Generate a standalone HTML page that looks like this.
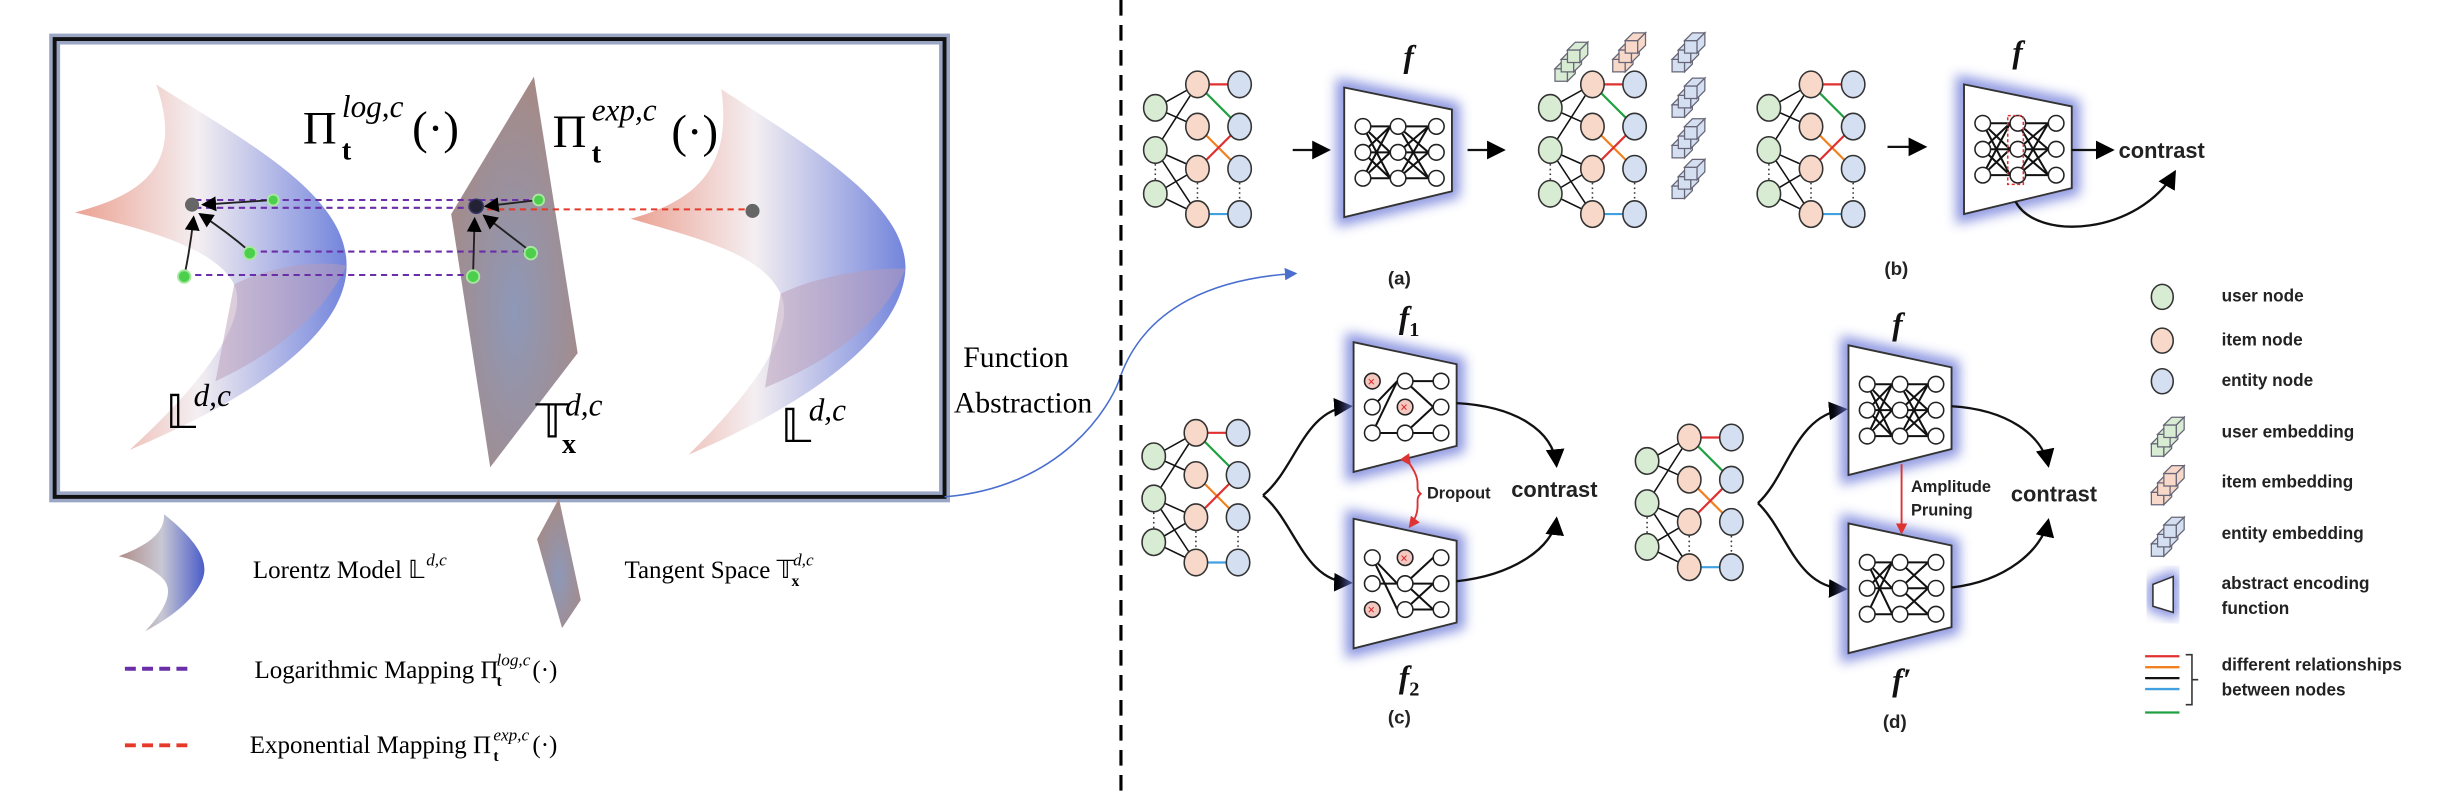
<!DOCTYPE html>
<html><head><meta charset="utf-8">
<style>
html,body{margin:0;padding:0;background:#fff;}
svg{display:block;}
</style></head>
<body>
<svg id="fig" width="2448" height="800" viewBox="0 0 1568 512" preserveAspectRatio="none" xmlns="http://www.w3.org/2000/svg">
<defs>
 <linearGradient id="sheet" x1="0" y1="0" x2="1" y2="0">
  <stop offset="0" stop-color="#e8907e"/><stop offset="0.45" stop-color="#f2ecef"/><stop offset="1" stop-color="#5a6fd6"/>
 </linearGradient>
 <linearGradient id="sheetL" x1="0" y1="0" x2="1" y2="0">
  <stop offset="0" stop-color="#b08c88"/><stop offset="0.5" stop-color="#c8c8d4"/><stop offset="1" stop-color="#4a5cc8"/>
 </linearGradient>
 <radialGradient id="plane" cx="0.5" cy="0.6" r="0.6">
  <stop offset="0" stop-color="#8e98b8"/><stop offset="1" stop-color="#a58a86"/>
 </radialGradient>
 <filter id="glow" x="-30%" y="-30%" width="160%" height="160%"><feGaussianBlur stdDeviation="4"/></filter>
 <marker id="ah" markerWidth="8" markerHeight="8" refX="7" refY="4" orient="auto"><path d="M0,0 L8,4 L0,8 z" fill="#000"/></marker>
 <marker id="ahb" markerWidth="8" markerHeight="8" refX="7" refY="4" orient="auto"><path d="M0,0 L8,4 L0,8 z" fill="#4a6fcf"/></marker>
 <marker id="ahr" markerWidth="6" markerHeight="6" refX="5" refY="3" orient="auto"><path d="M0,0 L6,3 L0,6 z" fill="#d33"/></marker>
</defs>

<g font-family="'Liberation Serif',serif">
 <rect x="35" y="25" width="570" height="293" fill="#fff" stroke="#9aa6c4" stroke-width="7"/>
 <rect x="35" y="25" width="570" height="293" fill="none" stroke="#111" stroke-width="2.5"/>
 <path d="M100,54 C160,92 222,125 222,170 C222,218 150,260 83,288 C130,245 160,205 150,182 C138,158 90,146 48,136 C85,126 120,110 100,54 Z" fill="url(#sheet)" opacity="0.85"/>
 <path d="M150,182 C170,172 200,166 222,170 C205,205 172,228 138,244 Z" fill="#b99cb8" opacity="0.5"/>
 <path d="M342,49 L370,226 L314,299 L289,137 Z" fill="url(#plane)"/>
 <path d="M462,57 C520,95 580,130 580,172 C578,218 510,262 441,291 C485,248 510,210 500,188 C488,162 445,152 404,140 C440,130 470,112 462,57 Z" fill="url(#sheet)" opacity="0.85"/>
 <path d="M500,188 C520,178 555,171 580,172 C565,208 530,232 490,248 Z" fill="#b99cb8" opacity="0.5"/>
 <g stroke-dasharray="4,3" stroke-width="1.3" fill="none">
  <line x1="125" y1="128" x2="346" y2="128" stroke="#6a2fa8"/>
  <line x1="125" y1="133" x2="305" y2="133" stroke="#6a2fa8"/>
  <line x1="160" y1="161" x2="340" y2="161" stroke="#6a2fa8"/>
  <line x1="118" y1="176" x2="303" y2="176" stroke="#6a2fa8"/>
  <line x1="305" y1="134" x2="482" y2="134" stroke="#e53a2a"/>
 </g>
 <g stroke="#222" stroke-width="1.2" fill="none">
  <line x1="175" y1="128" x2="130" y2="131" marker-end="url(#ah)"/>
  <path d="M160,161 Q145,148 128,137" marker-end="url(#ah)"/>
  <path d="M118,177 Q122,158 124,139" marker-end="url(#ah)"/>
  <line x1="345" y1="128" x2="311" y2="132" marker-end="url(#ah)"/>
  <line x1="340" y1="161" x2="310" y2="138" marker-end="url(#ah)"/>
  <line x1="303" y1="176" x2="304" y2="140" marker-end="url(#ah)"/>
 </g>
 <circle cx="123" cy="131" r="4.5" fill="#666"/>
 <circle cx="305" cy="132" r="4.5" fill="#223" stroke="#336" stroke-width="1"/>
 <circle cx="482" cy="135" r="4.5" fill="#666"/>
 <g fill="#4ccf4c" stroke="#a8e8a0" stroke-width="1.2">
  <circle cx="175" cy="128" r="3.5"/><circle cx="160" cy="162" r="4"/><circle cx="118" cy="177" r="4"/>
  <circle cx="345" cy="128" r="3.5"/><circle cx="340" cy="162" r="4"/><circle cx="303" cy="177" r="4"/>
 </g>
 <g>
  <text x="194" y="92" font-size="30">Π</text>
  <text x="219" y="75" font-size="20" font-style="italic">log,c</text>
  <text x="219" y="102" font-size="18" font-weight="bold">t</text>
  <text x="264" y="92" font-size="30">(·)</text>
 </g>
 <g>
  <text x="354" y="94" font-size="30">Π</text>
  <text x="379" y="77" font-size="20" font-style="italic">exp,c</text>
  <text x="379" y="104" font-size="18" font-weight="bold">t</text>
  <text x="430" y="94" font-size="30">(·)</text>
 </g>
 <g><text x="106" y="274" font-size="30">𝕃</text><text x="124" y="260" font-size="20" font-style="italic">d,c</text></g>
 <g><text x="343" y="280" font-size="30">𝕋</text><text x="362" y="266" font-size="20" font-style="italic">d,c</text><text x="360" y="290" font-size="18" font-weight="bold">x</text></g>
 <g><text x="500" y="283" font-size="30">𝕃</text><text x="518" y="269" font-size="20" font-style="italic">d,c</text></g>
</g>

<g font-family="'Liberation Serif',serif">
 <path d="M105,329 C125,345 134,358 130,370 C125,384 108,396 93,404 C106,390 112,378 104,370 C98,364 86,358 76,356 C92,350 106,342 105,329 Z" fill="url(#sheetL)"/>
 <g><text x="162" y="370" font-size="16">Lorentz Model 𝕃</text><text x="273" y="362" font-size="11" font-style="italic">d,c</text></g>
 <path d="M358,319 L372,384 L360,402 L344,345 Z" fill="url(#plane)"/>
 <g><text x="400" y="370" font-size="16">Tangent Space 𝕋</text><text x="508" y="362" font-size="11" font-style="italic">d,c</text><text x="507" y="375" font-size="10" font-weight="bold">x</text></g>
 <line x1="80" y1="428" x2="124" y2="428" stroke="#6a2fa8" stroke-width="2.5" stroke-dasharray="7,4"/>
 <g><text x="163" y="434" font-size="16">Logarithmic Mapping Π</text><text x="318" y="426" font-size="11" font-style="italic">log,c</text><text x="318" y="439" font-size="10" font-weight="bold">t</text><text x="341" y="434" font-size="16">(·)</text></g>
 <line x1="80" y1="477" x2="124" y2="477" stroke="#e53a2a" stroke-width="2.5" stroke-dasharray="7,4"/>
 <g><text x="160" y="482" font-size="16">Exponential Mapping Π</text><text x="316" y="474" font-size="11" font-style="italic">exp,c</text><text x="316" y="487" font-size="10" font-weight="bold">t</text><text x="341" y="482" font-size="16">(·)</text></g>
</g>

<text font-family="'Liberation Serif',serif" x="617" y="235" font-size="19">Function</text>
<text font-family="'Liberation Serif',serif" x="611" y="264" font-size="19">Abstraction</text>
<path d="M605,318 C680,312 712,260 718,240 C735,195 780,178 830,175" fill="none" stroke="#4a6fcf" stroke-width="1" marker-end="url(#ahb)"/>
<line x1="718" y1="0" x2="718" y2="512" stroke="#000" stroke-width="2" stroke-dasharray="10,6"/>

<g id="right"></g>
</svg>

<script>
const NS='http://www.w3.org/2000/svg';
const R=document.getElementById('right');
function mk(tag,at,parent){const e=document.createElementNS(NS,tag);for(const k in at)e.setAttribute(k,at[k]);(parent||R).appendChild(e);return e;}
function txt(x,y,s,size,name){const t=mk('text',{x:x,y:y,'font-size':size,'font-family':'"Liberation Sans",sans-serif','font-weight':'bold',fill:'#222'});t.textContent=s;


return t;}
const GREEN='#d8ecd4',PEACH='#f8d8c8',BLUE='#d4e0f2';
function graph(x0,y0,name){
  const g=mk('g',{});
  
  
  const gy=[15,42,70].map(v=>y0+v), iy=[0,27,54,83].map(v=>y0+v);
  const xg=x0,xi=x0+27,xe=x0+54;
  const edges=[[0,0],[0,1],[1,0],[1,2],[2,2],[2,3],[1,3]];
  edges.forEach(([a,b])=>mk('line',{x1:xg,y1:gy[a],x2:xi,y2:iy[b],stroke:'#111','stroke-width':1},g));
  const col=[[0,0,'#e03030'],[0,1,'#20a040'],[1,2,'#f08020'],[2,1,'#e03030'],[3,3,'#40a0e0']];
  col.forEach(([a,b,c])=>mk('line',{x1:xi,y1:iy[a],x2:xe,y2:iy[b],stroke:c,'stroke-width':1.4},g));
  gy.forEach(y=>mk('ellipse',{cx:xg,cy:y,rx:7.5,ry:8.5,fill:GREEN,stroke:'#333','stroke-width':1},g));
  iy.forEach(y=>mk('ellipse',{cx:xi,cy:y,rx:7.5,ry:8.5,fill:PEACH,stroke:'#333','stroke-width':1},g));
  iy.forEach(y=>mk('ellipse',{cx:xe,cy:y,rx:7.5,ry:8.5,fill:BLUE,stroke:'#333','stroke-width':1},g));
  [[xg,y0+56],[xi,y0+68],[xe,y0+68]].forEach(([x,y])=>mk('line',{x1:x,y1:y-5,x2:x,y2:y+5,stroke:'#333','stroke-dasharray':'1,2'},g));
}
function trap(x,y,w,h,name,inner){
  const g=mk('g',{});
  
  
  const pts=`${x},${y} ${x+w},${y+h*0.17} ${x+w},${y+h*0.8} ${x},${y+h}`;
  mk('polygon',{points:pts,fill:'none',stroke:'#6c78d8','stroke-width':10,filter:'url(#glow)',opacity:0.8},g);
  mk('polygon',{points:pts,fill:'#fff',stroke:'#333','stroke-width':1.2},g);
  const cx=[x+12,x+w/2,x+w-10], cy=[y+h*0.3,y+h*0.5,y+h*0.7];
  const nodes=inner||[[1,1,1],[1,1,1],[1,1,1]];
  for(let c=0;c<2;c++)for(let a=0;a<3;a++)for(let b=0;b<3;b++){
    if(nodes[c][a]!==1||nodes[c+1][b]!==1)continue;
    if(inner&&((a+b+c)%3===0)&&a!==b)continue;
    mk('line',{x1:cx[c],y1:cy[a],x2:cx[c+1]-5,y2:cy[b],stroke:'#111','stroke-width':1.3},g);
  }
  for(let c=0;c<3;c++)for(let a=0;a<3;a++){
    mk('circle',{cx:cx[c],cy:cy[a],r:5,fill:nodes[c][a]===2?'#f4c8c0':'#fff',stroke:'#222','stroke-width':1},g);
    if(nodes[c][a]===2){mk('text',{x:cx[c]-3,y:cy[a]+3,'font-size':8,fill:'#d22','font-family':'"Liberation Sans",sans-serif'},g).textContent='×';}
  }
  return g;
}
function cube(x,y,fill,name){
  const g=mk('g',{});
  
  
  for(let i=0;i<3;i++){
    const bx=x+i*4,by=y-i*6;
    mk('polygon',{points:`${bx},${by} ${bx+8},${by} ${bx+8},${by+8} ${bx},${by+8}`,fill:fill,stroke:'#667','stroke-width':0.8},g);
    mk('polygon',{points:`${bx},${by} ${bx+5},${by-5} ${bx+13},${by-5} ${bx+8},${by}`,fill:fill,stroke:'#667','stroke-width':0.8},g);
    mk('polygon',{points:`${bx+8},${by} ${bx+13},${by-5} ${bx+13},${by+3} ${bx+8},${by+8}`,fill:fill,stroke:'#667','stroke-width':0.8},g);
  }
}
function arrow(d,name,col){const p=mk('path',{d:d,fill:'none',stroke:col||'#111','stroke-width':1.5,'marker-end':col?'url(#ahr)':'url(#ah)'});
  
  }
function fLabel(x,y,s,sub,name){const t=mk('text',{x:x,y:y,'font-size':20,'font-family':'"Liberation Serif",serif','font-style':'italic','font-weight':'bold',fill:'#111'});t.textContent=s;
  
  
  if(sub){const ts=document.createElementNS(NS,'tspan');ts.setAttribute('font-size','13');ts.setAttribute('font-style','normal');ts.setAttribute('dy','5');ts.textContent=sub;t.appendChild(ts);}}

// (a)
graph(740,54,'graph-a-input');
arrow('M828,96 L851,96','arrow-a-1');
trap(861,56,69,83,'encoder-a');
fLabel(899,43,'f','','f-label-a');
arrow('M940,96 L963,96','arrow-a-2');
graph(993,54,'graph-a-output');
cube(996,44,GREEN,'user-embedding-a');cube(1033,38,PEACH,'item-embedding-a');cube(1071,38,BLUE,'entity-embedding-a-1');
cube(1071,67,BLUE,'entity-embedding-a-2');cube(1071,93,BLUE,'entity-embedding-a-3');cube(1071,119,BLUE,'entity-embedding-a-4');
txt(889,182,'(a)',12,'label-a');
// (b)
graph(1133,54,'graph-b-input');
arrow('M1209,94 L1233,94','arrow-b-1');
trap(1258,54,69,83,'encoder-b');
mk('rect',{x:1286,y:74,width:10,height:44,fill:'none',stroke:'#d33','stroke-dasharray':'2,1.5'});
fLabel(1289,40,'f','','f-label-b');
arrow('M1327,96 L1353,96','arrow-b-2');
txt(1357,101,'contrast',14,'contrast-b');
arrow('M1291,129 C1305,155 1370,150 1393,110','arrow-b-curve');
txt(1207,176,'(b)',12,'label-b');
// (c)
graph(739,277,'graph-c-input');
arrow('M809,317 C830,300 835,262 865,260','arrow-c-top');
arrow('M809,317 C830,335 835,372 865,373','arrow-c-bottom');
trap(867,219,66,83,'encoder-c-1',[[2,1,1],[1,2,1],[1,1,1]]);
trap(867,332,66,83,'encoder-c-2',[[1,1,2],[2,1,1],[1,1,1]]);
fLabel(896,210,'f','1','f1-label');
fLabel(896,440,'f','2','f2-label');
arrow('M933,258 C970,260 995,275 997,298','arrow-c-contrast-1');
arrow('M933,372 C970,368 995,350 997,332','arrow-c-contrast-2');
mk('path',{d:'M903,297 C912,310 905,312 910,316 C905,320 912,325 903,337',fill:'none',stroke:'#d33','stroke-width':1.2,'marker-end':'url(#ahr)','marker-start':'url(#ahr)'});
txt(914,319,'Dropout',10.5,'dropout-label');
txt(968,318,'contrast',14,'contrast-c');
txt(889,463,'(c)',12,'label-c');
// (d)
graph(1055,280,'graph-d-input');
arrow('M1126,322 C1145,305 1150,265 1182,262','arrow-d-top');
arrow('M1126,322 C1145,340 1150,376 1182,377','arrow-d-bottom');
trap(1184,221,66,83,'encoder-d');
trap(1184,335,66,83,'encoder-d-pruned',[[1,1,1],[1,1,1],[1,1,1]]);
fLabel(1212,214,'f','','f-label-d');
fLabel(1212,442,'f′','','f-prime-label');
mk('line',{x1:1218,y1:297,x2:1218,y2:341,stroke:'#d33','stroke-width':1.2,'marker-end':'url(#ahr)'});
txt(1224,315,'Amplitude',10.5,'amplitude-label');
txt(1224,330,'Pruning',10.5,'pruning-label');
arrow('M1250,260 C1285,262 1308,278 1312,298','arrow-d-contrast-1');
arrow('M1250,376 C1285,372 1308,352 1312,333','arrow-d-contrast-2');
txt(1288,321,'contrast',14,'contrast-d');
txt(1206,466,'(d)',12,'label-d');
// legend
const leg=mk('g',{});


[[190,GREEN],[218,PEACH],[244,BLUE]].forEach(([y,c])=>mk('ellipse',{cx:1385,cy:y,rx:7,ry:8,fill:c,stroke:'#333','stroke-width':1},leg));
cube(1378,284,GREEN,'legend-user-embedding');cube(1378,315,PEACH,'legend-item-embedding');cube(1378,348,BLUE,'legend-entity-embedding');
mk('polygon',{points:'1379,374 1392,369 1392,392 1379,388',fill:'none',stroke:'#6c78d8','stroke-width':6,filter:'url(#glow)'},leg);
mk('polygon',{points:'1379,374 1392,369 1392,392 1379,388',fill:'#fff',stroke:'#333'},leg);
[['#e03030',420],['#f08020',427],['#111',434],['#40a0e0',441],['#20a040',456]].forEach(([c,y])=>mk('line',{x1:1374,y1:y,x2:1396,y2:y,stroke:c,'stroke-width':1.5},leg));
mk('path',{d:'M1400,419 L1404,419 L1404,451 L1400,451 M1404,435 L1408,435',fill:'none',stroke:'#333'},leg);
const L=[['user node',193],['item node',221],['entity node',247],['user embedding',280],['item embedding',312],['entity embedding',345],['abstract encoding',377],['function',393],['different relationships',429],['between nodes',445]];
L.forEach(([s,y])=>txt(1423,y,s,11,'legend-'+s.replace(/ /g,'-')));
</script>
</body></html>
